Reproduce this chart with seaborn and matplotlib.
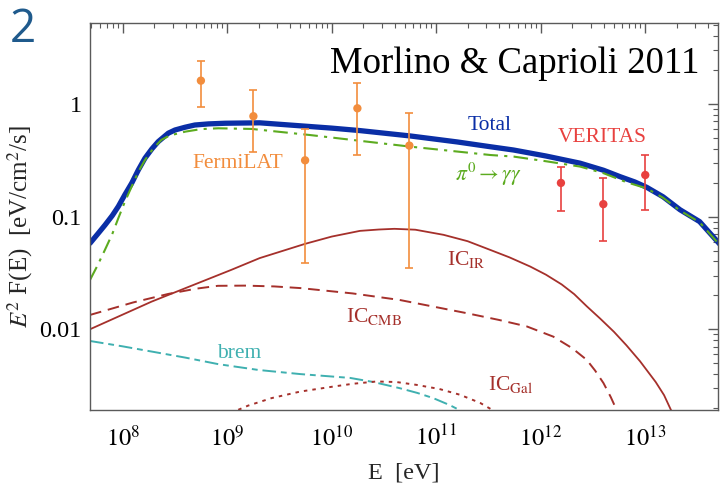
import numpy as np
import pandas as pd
import matplotlib
matplotlib.use("Agg")
import matplotlib.pyplot as plt
import seaborn as sns
from matplotlib.ticker import FixedLocator, FixedFormatter, NullFormatter

# Model components: log10(E / eV) and E^2 F(E) in eV/cm^2/s
total_logE = [7.687, 7.76, 7.83, 7.9, 7.958, 8.02, 8.086, 8.15, 8.213, 8.28,
              8.34, 8.436, 8.5, 8.596, 8.69, 8.82, 8.98, 9.31,
              10.0, 10.27, 10.75, 11.2, 11.51, 11.74, 12.05, 12.376, 12.6,
              12.76, 12.9, 13.014, 13.17, 13.333, 13.52, 13.72]
total_flux = [0.058, 0.070, 0.084, 0.102, 0.123, 0.156, 0.198, 0.26, 0.33, 0.40,
              0.463, 0.55, 0.587, 0.621, 0.65, 0.665, 0.674, 0.68,
              0.61, 0.58, 0.52, 0.46, 0.418, 0.39, 0.345, 0.298, 0.258,
              0.226, 0.203, 0.182, 0.15, 0.115, 0.0903, 0.056]

pi0_logE = [7.687, 7.76, 7.83, 7.9, 7.958, 8.02, 8.086, 8.15, 8.213, 8.29,
            8.37, 8.45, 8.6, 8.75, 8.915, 9.234, 9.79,
            10.75, 11.52, 11.74, 12.05, 12.376, 12.6, 12.82, 13.014, 13.17,
            13.333, 13.52, 13.72]
pi0_flux = [0.0274, 0.037, 0.0507, 0.070, 0.0968, 0.135, 0.185, 0.25, 0.318, 0.40,
            0.48, 0.525, 0.568, 0.598, 0.608, 0.6, 0.53,
            0.418, 0.352, 0.341, 0.310, 0.278, 0.243, 0.202, 0.178, 0.147,
            0.113, 0.089, 0.055]

ic_ir_logE = [7.687, 8.277, 9.04, 9.31, 9.745, 10.0, 10.27, 10.45, 10.6, 10.8,
              11.07, 11.3, 11.515, 11.7, 11.9, 12.05, 12.2, 12.32, 12.44, 12.57,
              12.7, 12.82, 12.95, 13.1, 13.18, 13.26]
ic_ir_flux = [0.01, 0.0176, 0.0337, 0.0428, 0.0573, 0.0665, 0.0747, 0.0768, 0.0779,
              0.0765, 0.0689, 0.0605, 0.0507, 0.0435, 0.036, 0.0305, 0.025, 0.0205,
              0.016, 0.0124, 0.0095, 0.0072, 0.0052, 0.0034, 0.0026, 0.0018]

ic_cmb_logE = [7.687, 8.1, 8.437, 8.7, 8.91, 9.17, 9.45, 9.70, 10.2, 10.65,
               11.29, 11.6, 11.866, 12.12, 12.3, 12.44, 12.52, 12.6, 12.67, 12.74]
ic_cmb_flux = [0.0134, 0.0173, 0.0206, 0.0229, 0.0243, 0.0244, 0.0240, 0.0232,
               0.0208, 0.0182, 0.0139, 0.0121, 0.0106, 0.0086, 0.0068, 0.00535,
               0.0043, 0.00333, 0.0025, 0.0018]

brem_logE = [7.687, 8.0, 8.277, 8.6, 8.915, 9.3, 9.70, 10.175, 10.4, 10.65,
             10.82, 10.97, 11.13, 11.28]
brem_flux = [0.00787, 0.00705, 0.00634, 0.0056, 0.0049, 0.00435, 0.0040, 0.0037,
             0.0034, 0.0030, 0.00272, 0.00245, 0.00212, 0.0018]

ic_gal_logE = [9.03, 9.2, 9.426, 9.70, 10.015, 10.2, 10.43, 10.62, 10.81,
               11.03, 11.228, 11.42, 11.59]
ic_gal_flux = [0.0018, 0.0021, 0.00245, 0.0028, 0.0031, 0.00328, 0.00344, 0.00340,
               0.00321, 0.00295, 0.00262, 0.00222, 0.0018]

# Measurements: energy, flux, lower and upper error-bar ends
fermi_E = [5.6e8, 1.78e9, 5.56e9, 1.76e10, 5.53e10]
fermi_F = [1.61, 0.778, 0.316, 0.915, 0.427]
fermi_lo = [0.935, 0.377, 0.0386, 0.353, 0.0347]
fermi_hi = [2.42, 1.33, 0.60, 1.53, 0.83]

veritas_E = [1.56e12, 3.97e12, 1.0e13]
veritas_F = [0.199, 0.129, 0.234]
veritas_lo = [0.111, 0.061, 0.1135]
veritas_hi = [0.278, 0.219, 0.355]

# Axis ticks
x_tick_exp = [8, 9, 10, 11, 12, 13]
x_tick_labels = [r"$10^{%d}$" % k for k in x_tick_exp]
y_tick_values = [0.01, 0.1, 1]
y_tick_labels = ["0.01", "0.1", "1"]

C_TOTAL = "#0a2ea6"
C_PI0 = "#5cab1f"
C_IC = "#a5302b"
C_BREM = "#3fb0b0"
C_FERMI = "#f28d3d"
C_VERITAS = "#e8413f"

sns.set_theme(style="white")
plt.rcParams["font.family"] = ["Liberation Serif", "DejaVu Serif"]
plt.rcParams["mathtext.fontset"] = "stix"

W, H = 727, 491
fig = plt.figure(figsize=(W / 100, H / 100), dpi=100)
ax = fig.add_axes([90 / W, 1 - 410 / H, 628 / W, 387 / H])


def curve(logE, flux, color, lw, ls):
    df = pd.DataFrame({"E": np.power(10.0, logE), "F": flux})
    sns.lineplot(data=df, x="E", y="F", ax=ax, sort=False, estimator=None,
                 color=color, linewidth=lw, linestyle=ls)


curve(brem_logE, brem_flux, C_BREM, 1.4, (0, (7, 2.5, 3, 2.5)))
curve(ic_gal_logE, ic_gal_flux, C_IC, 1.4, (0, (1.8, 2.6)))
curve(ic_cmb_logE, ic_cmb_flux, C_IC, 1.4, (0, (6, 3.5)))
curve(ic_ir_logE, ic_ir_flux, C_IC, 1.3, "-")
curve(total_logE, total_flux, C_TOTAL, 3.8, "-")
curve(pi0_logE, pi0_flux, C_PI0, 1.5, (0, (7, 3, 1.5, 3)))


def data_points(E, F, lo, hi, color):
    F = np.asarray(F)
    yerr = [F - np.asarray(lo), np.asarray(hi) - F]
    ax.errorbar(E, F, yerr=yerr, fmt="none", ecolor=color, elinewidth=1.2,
                capsize=3.2, capthick=1.2, zorder=5)
    sns.scatterplot(x=E, y=F, ax=ax, color=color, s=36, edgecolor="none",
                    zorder=6)


data_points(fermi_E, fermi_F, fermi_lo, fermi_hi, C_FERMI)
data_points(veritas_E, veritas_F, veritas_lo, veritas_hi, C_VERITAS)

ax.set_xscale("log")
ax.set_yscale("log")
ax.set_xlim(10 ** 7.687, 10 ** 13.696)
ax.set_ylim(0.00192, 5.23)

x_lo, x_hi = ax.get_xlim()
y_lo, y_hi = ax.get_ylim()
x_minor = [m * 10.0 ** k for k in range(7, 14) for m in range(2, 10)
           if x_lo <= m * 10.0 ** k <= x_hi]
y_minor = [m * 10.0 ** k for k in range(-3, 1) for m in range(2, 10)
           if y_lo <= m * 10.0 ** k <= y_hi]

ax.xaxis.set_major_locator(FixedLocator([10.0 ** k for k in x_tick_exp]))
ax.xaxis.set_major_formatter(FixedFormatter(x_tick_labels))
ax.xaxis.set_minor_locator(FixedLocator(x_minor))
ax.yaxis.set_major_locator(FixedLocator(y_tick_values))
ax.yaxis.set_major_formatter(FixedFormatter(y_tick_labels))
ax.yaxis.set_minor_locator(FixedLocator(y_minor))
ax.xaxis.set_minor_formatter(NullFormatter())
ax.yaxis.set_minor_formatter(NullFormatter())

frame = "#5a5a5a"
for s in ax.spines.values():
    s.set_color(frame)
    s.set_linewidth(1.0)
ax.tick_params(which="both", direction="in", top=True, right=True,
               color=frame, labelcolor="black", labelsize=17.5)
ax.tick_params(which="major", length=7, width=1.0)
ax.tick_params(axis="x", which="major", pad=11)
ax.tick_params(axis="y", which="major", pad=6)
ax.tick_params(which="minor", length=3.5, width=0.8)

ax.set_xlabel("")
ax.set_ylabel("")


def label(x, y, s, color, size, **kw):
    fig.text(x / W, 1 - y / H, s, color=color, fontsize=size,
             ha="center", va="baseline", **kw)


label(515, 73, "Morlino & Caprioli 2011", "black", 26.5)
label(489.5, 130, "Total", C_TOTAL, 15.5)
label(602.5, 141.5, "VERITAS", C_VERITAS, 15.5)
label(238, 168.3, "FermiLAT", C_FERMI, 15.5)
label(489, 181, r"$\pi^0 \rightarrow \gamma\gamma$", C_PI0, 15.5)
label(466, 265, r"IC$_{\mathrm{IR}}$", C_IC, 15.5)
label(374.5, 321.7, r"IC$_{\mathrm{CMB}}$", C_IC, 15.5)
label(239.5, 358, "brem", C_BREM, 15.5)
label(510.5, 390, r"IC$_{\mathrm{Gal}}$", C_IC, 15.5)

fig.text(404 / W, 1 - 473 / H, "E  [eV]", fontsize=17.5, ha="center", va="center")
fig.text(20 / W, 1 - 227 / H, r"$E^2$ F(E)  [eV/cm$^2$/s]", fontsize=18,
         ha="center", va="center", rotation=90)

fig.text(10 / W, 1 - 42 / H, "2", color="#1f5a8c", fontsize=33,
         family=["Open Sans", "DejaVu Sans"], ha="left", va="baseline")

fig.savefig("out.png", dpi=100)
